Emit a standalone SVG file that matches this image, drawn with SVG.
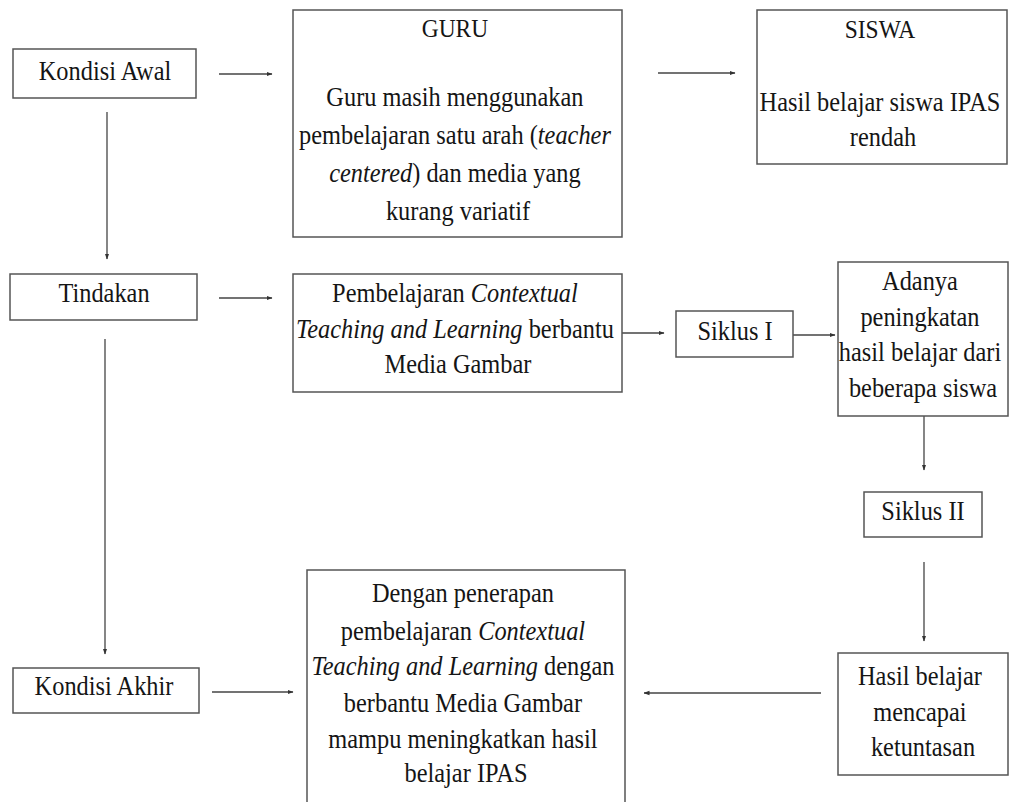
<svg xmlns="http://www.w3.org/2000/svg" width="1009" height="802" viewBox="0 0 1009 802">
<defs>
<style>
.box{fill:#fff;stroke:#555;stroke-width:1.5}
.ln{fill:none;stroke:#444;stroke-width:1.3;marker-end:url(#ah)}
.t{font-family:"Liberation Serif","Times New Roman",serif;font-size:26.5px;fill:#151515;text-anchor:middle}
.h{font-size:25.5px}
.i{font-style:italic}
</style>
<marker id="ah" viewBox="0 0 6 6" refX="5.5" refY="3" markerWidth="6" markerHeight="6" markerUnits="userSpaceOnUse" orient="auto">
<path d="M0,0.8 L6,3 L0,5.2 z" fill="#333"/>
</marker>
</defs>
<rect width="1009" height="802" fill="#fff"/>
<g id="connectors">
<line class="ln" x1="219" y1="74" x2="272" y2="74"/>
<line class="ln" x1="658" y1="73" x2="735" y2="73"/>
<line class="ln" x1="107" y1="112" x2="107" y2="259"/>
<line class="ln" x1="219" y1="298" x2="272" y2="298"/>
<line class="ln" x1="105" y1="339" x2="105" y2="654"/>
<line class="ln" x1="622" y1="333" x2="664" y2="333"/>
<line class="ln" x1="793" y1="335" x2="835" y2="335"/>
<line class="ln" x1="924" y1="416" x2="924" y2="470"/>
<line class="ln" x1="924" y1="562" x2="924" y2="641"/>
<line class="ln" x1="821" y1="693" x2="644" y2="693"/>
<line class="ln" x1="212" y1="692" x2="293" y2="692"/>
</g>
<g id="kondisi-awal">
<rect class="box" x="13" y="49" width="183" height="49"/>
<text class="t" transform="translate(105,0) scale(0.92,1)"><tspan x="0" y="80">Kondisi Awal</tspan></text>
</g>
<g id="guru">
<rect class="box" x="293" y="10" width="329" height="227"/>
<text class="t" transform="translate(458,0) scale(0.92,1)">
<tspan class="h" x="0" y="37">GURU</tspan>
<tspan x="0" y="106">Guru masih menggunakan</tspan>
<tspan x="0" y="144">pembelajaran satu arah (<tspan class="i">teacher</tspan></tspan>
<tspan x="0" y="182"><tspan class="i">centered</tspan>) dan media yang</tspan>
<tspan x="0" y="220">kurang variatif</tspan>
</text>
</g>
<g id="siswa">
<rect class="box" x="757" y="10" width="250" height="154"/>
<text class="t" transform="translate(883,0) scale(0.92,1)">
<tspan class="h" x="0" y="38">SISWA</tspan>
<tspan x="0" y="111">Hasil belajar siswa IPAS</tspan>
<tspan x="0" y="146">rendah</tspan>
</text>
</g>
<g id="tindakan">
<rect class="box" x="10" y="274" width="187" height="46"/>
<text class="t" transform="translate(104,0) scale(0.92,1)"><tspan x="0" y="302">Tindakan</tspan></text>
</g>
<g id="pembelajaran">
<rect class="box" x="293" y="274" width="329" height="118"/>
<text class="t" transform="translate(458,0) scale(0.92,1)">
<tspan x="0" y="302">Pembelajaran <tspan class="i">Contextual</tspan></tspan>
<tspan x="0" y="338"><tspan class="i">Teaching and Learning</tspan> berbantu</tspan>
<tspan x="0" y="373">Media Gambar</tspan>
</text>
</g>
<g id="siklus-1">
<rect class="box" x="676" y="311" width="117" height="46"/>
<text class="t" transform="translate(735,0) scale(0.92,1)"><tspan x="0" y="340">Siklus I</tspan></text>
</g>
<g id="adanya">
<rect class="box" x="838" y="262" width="170" height="154"/>
<text class="t" transform="translate(923,0) scale(0.92,1)">
<tspan x="0" y="290">Adanya</tspan>
<tspan x="0" y="326">peningkatan</tspan>
<tspan x="0" y="361">hasil belajar dari</tspan>
<tspan x="0" y="397">beberapa siswa</tspan>
</text>
</g>
<g id="siklus-2">
<rect class="box" x="864" y="492" width="118" height="45"/>
<text class="t" transform="translate(923,0) scale(0.92,1)"><tspan x="0" y="520">Siklus II</tspan></text>
</g>
<g id="hasil">
<rect class="box" x="838" y="653" width="170" height="122"/>
<text class="t" transform="translate(923,0) scale(0.92,1)">
<tspan x="0" y="685">Hasil belajar</tspan>
<tspan x="0" y="721">mencapai</tspan>
<tspan x="0" y="756">ketuntasan</tspan>
</text>
</g>
<g id="kondisi-akhir">
<rect class="box" x="13" y="668" width="186" height="45"/>
<text class="t" transform="translate(104,0) scale(0.92,1)"><tspan x="0" y="695">Kondisi Akhir</tspan></text>
</g>
<g id="kesimpulan">
<rect class="box" x="307" y="570" width="318" height="245"/>
<text class="t" transform="translate(466,0) scale(0.92,1)">
<tspan x="0" y="602">Dengan penerapan</tspan>
<tspan x="0" y="640">pembelajaran <tspan class="i">Contextual</tspan></tspan>
<tspan x="0" y="675"><tspan class="i">Teaching and Learning</tspan> dengan</tspan>
<tspan x="0" y="712">berbantu Media Gambar</tspan>
<tspan x="0" y="748">mampu meningkatkan hasil</tspan>
<tspan x="0" y="782">belajar IPAS</tspan>
</text>
</g>
</svg>
